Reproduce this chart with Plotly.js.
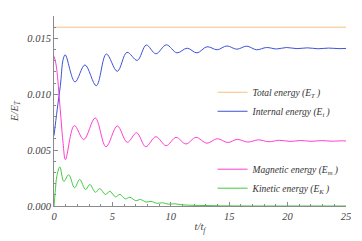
<!DOCTYPE html>
<html>
<head>
<meta charset="utf-8">
<script src="https://cdn.plot.ly/plotly-3.0.1.min.js"></script>
<style>html,body{margin:0;padding:0;background:#fff;}#chart{width:362px;height:241px;}</style>
</head>
<body>
<div id="chart"></div>
<script>
// Total energy
const totalT = [0, 25];
const totalE = [0.0160, 0.0160];

// Internal energy
const internalT = [0, 0.27, 0.55, 0.78, 0.96, 1.8, 2.65, 3.62, 4.48, 5.42, 6.25, 7.13, 7.9, 8.72, 9.62, 10.53, 11.4, 12.24, 13.1, 13.97, 14.8, 15.65, 16.5, 17.35, 18.2, 19.05, 19.9, 20.8, 21.7, 22.6, 23.5, 24.4, 25];
const internalE = [0.0063, 0.0086, 0.0108, 0.0131, 0.01353, 0.0111, 0.01262, 0.01076, 0.0136, 0.01205, 0.01375, 0.01303, 0.0144, 0.01362, 0.01442, 0.0137, 0.01412, 0.0137, 0.01425, 0.01398, 0.01432, 0.01403, 0.0143, 0.01398, 0.01418, 0.01405, 0.01418, 0.01408, 0.01415, 0.01407, 0.01413, 0.01408, 0.0141];

// Magnetic energy
const magneticT = [0, 0.15, 0.3, 0.45, 0.6, 0.78, 0.98, 1.74, 2.55, 3.53, 4.45, 5.42, 6.27, 7.08, 7.85, 8.72, 9.6, 10.45, 11.3, 12.15, 13.1, 13.97, 14.88, 15.7, 16.6, 17.5, 18.4, 19.3, 20.2, 21.1, 22, 22.9, 23.8, 24.6, 25];
const magneticE = [0.0134, 0.0128, 0.0116, 0.0097, 0.0078, 0.0056, 0.00415, 0.0072, 0.00595, 0.00788, 0.0053, 0.00716, 0.0057, 0.00655, 0.0053, 0.0062, 0.0054, 0.00614, 0.00555, 0.00614, 0.00562, 0.00602, 0.00568, 0.00596, 0.00572, 0.00592, 0.00575, 0.00588, 0.00578, 0.00586, 0.00579, 0.00585, 0.0058, 0.00583, 0.00582];

// Kinetic energy
const kineticT = [0, 0.1, 0.25, 0.5, 0.84, 1.26, 1.76, 2.2, 2.7, 3.07, 3.55, 3.92, 4.41, 4.78, 5.27, 5.65, 6.1, 6.5, 7.0, 7.4, 7.9, 8.3, 8.8, 9.3, 9.8, 10.3, 11, 12, 13, 14, 15, 17, 20, 25];
const kineticE = [0, 0.0012, 0.0027, 0.0035, 0.0022, 0.0028, 0.00163, 0.00237, 0.00147, 0.00192, 0.00123, 0.00156, 0.00103, 0.00132, 0.00082, 0.00104, 0.00064, 0.00078, 0.00048, 0.00058, 0.00035, 0.00042, 0.00024, 0.00029, 0.00016, 0.0002, 0.0001, 0.00006, 0.00004, 0.00002, 0.00001, 0, 0, 0];

const serif = "Liberation Serif, DejaVu Serif, serif";
const lw = 1;

const traces = [
  {x: totalT, y: totalE, mode: 'lines', name: '<i>Total energy (E<sub>T</sub> )</i>', line: {color: '#f7c07e', width: lw}, legend: 'legend'},
  {x: internalT, y: internalE, mode: 'lines', name: '<i>Internal energy (E<sub>i</sub> )</i>', line: {color: '#3f52d6', width: lw, shape: 'spline', smoothing: 1}, legend: 'legend'},
  {x: magneticT, y: magneticE, mode: 'lines', name: '<i>Magnetic energy (E<sub>m</sub> )</i>', line: {color: '#ff3fd0', width: lw, shape: 'spline', smoothing: 1}, legend: 'legend2'},
  {x: kineticT, y: kineticE, mode: 'lines', name: '<i>Kinetic energy (E<sub>K</sub> )</i>', line: {color: '#3fcc3f', width: lw, shape: 'spline', smoothing: 1}, legend: 'legend2'}
];

const axisCommon = {
  showline: true, linecolor: '#8a8a8a', linewidth: 1, showgrid: false, zeroline: false,
  ticks: 'inside', ticklen: 4, tickcolor: '#8a8a8a', tickwidth: 1,
  tickfont: {family: serif, size: 10.5, color: '#444', style: 'italic'}
};

const layout = {
  width: 362, height: 241,
  margin: {l: 54, r: 16, t: 16, b: 35},
  paper_bgcolor: '#fff', plot_bgcolor: '#fff',
  showlegend: true,
  xaxis: Object.assign({}, axisCommon, {
    range: [0, 25], dtick: 5, tick0: 0,
    minor: {dtick: 1, ticklen: 2, tickcolor: '#8a8a8a', ticks: 'inside'},
    title: {text: '<i>t/t<sub>f</sub></i>', font: {family: serif, size: 10.5, color: '#444'}, standoff: 2}
  }),
  yaxis: Object.assign({}, axisCommon, {
    range: [0, 0.017], dtick: 0.005, tick0: 0, tickformat: '.3f',
    minor: {dtick: 0.001, ticklen: 2, tickcolor: '#8a8a8a', ticks: 'inside'},
    title: {text: '<i>E/E<sub>T</sub></i>', font: {family: serif, size: 10.5, color: '#444'}, standoff: 6}
  }),
  legend: {
    x: 0.543, y: 0.675, xanchor: 'left', yanchor: 'top', bgcolor: 'rgba(0,0,0,0)',
    font: {family: serif, size: 9.5, color: '#333'}, tracegroupgap: 0, itemwidth: 30
  },
  legend2: {
    x: 0.543, y: 0.27, xanchor: 'left', yanchor: 'top', bgcolor: 'rgba(0,0,0,0)',
    font: {family: serif, size: 9.5, color: '#333'}, tracegroupgap: 0, itemwidth: 30
  }
};

Plotly.newPlot('chart', traces, layout, {displayModeBar: false, staticPlot: true});
</script>
</body>
</html>
